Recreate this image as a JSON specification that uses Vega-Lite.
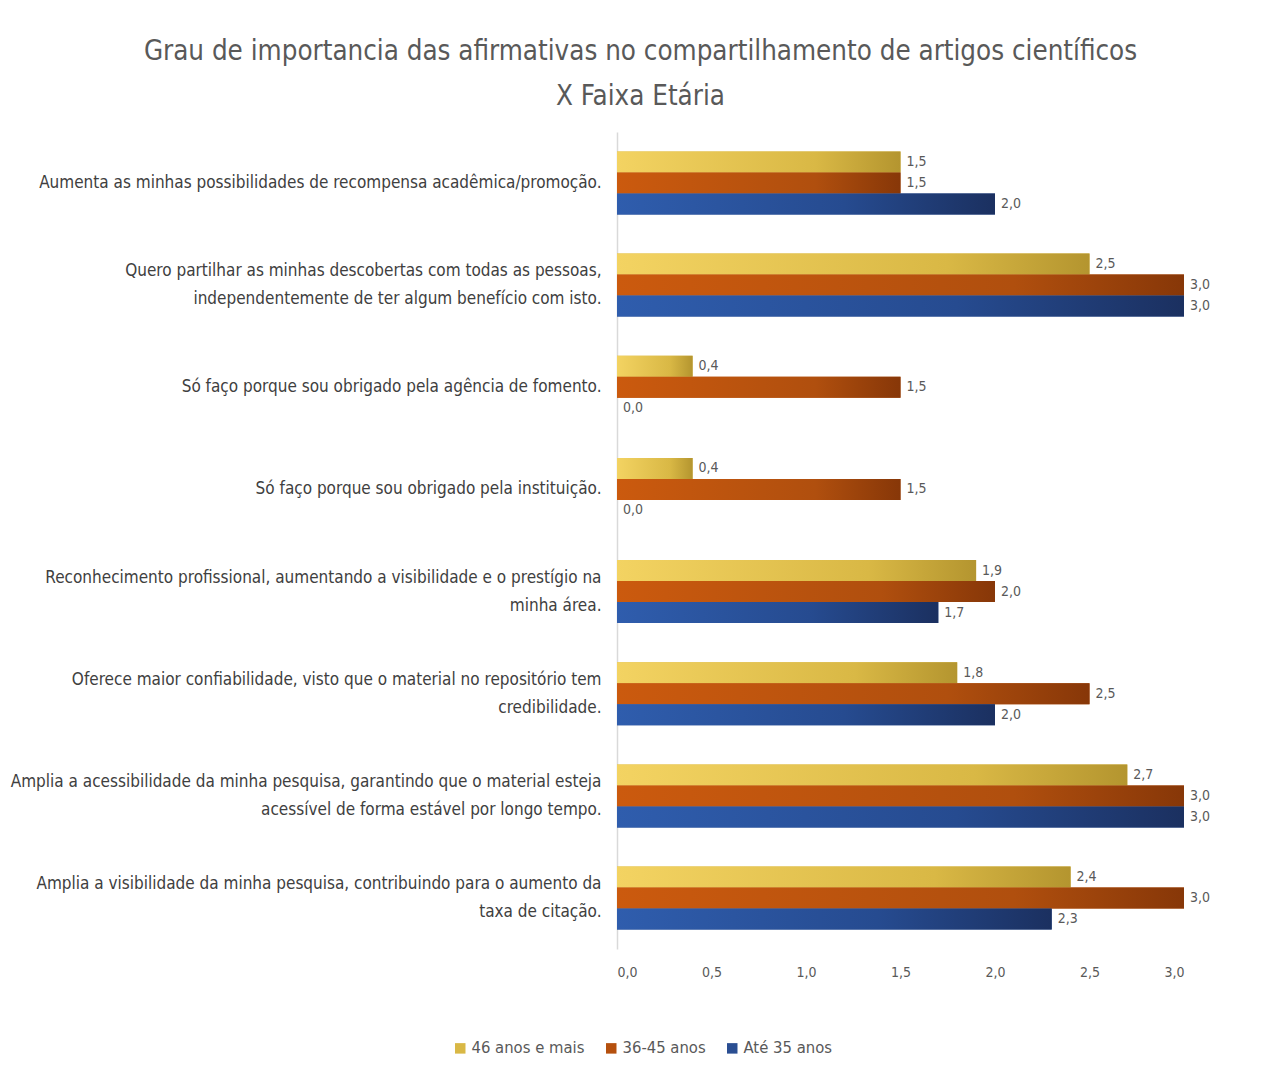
{
  "$schema": "https://vega.github.io/schema/vega-lite/v6.json",
  "autosize": "none",
  "width": 567,
  "height": 817,
  "padding": {"left": 617, "top": 132, "right": 79, "bottom": 121},
  "background": "white",
  "config": {
    "font": "'DejaVu Sans Condensed', 'Liberation Sans Narrow', Lato, sans-serif",
    "view": {"stroke": null},
    "locale": {"number": {"decimal": ",", "thousands": ".", "grouping": [3], "currency": ["R$", ""]}}
  },
  "title": {
    "text": ["Grau de importancia das afirmativas no compartilhamento de artigos científicos", "X Faixa Etária"],
    "font": "'DejaVu Sans Condensed', 'Liberation Sans Narrow', Lato, sans-serif",
    "fontSize": 27.5,
    "fontWeight": "normal",
    "color": "#595959",
    "anchor": "middle",
    "frame": "group",
    "dx": -260,
    "offset": 22,
    "lineHeight": 45
  },
  "data": {
    "values": [
      {"afirmativa": "Aumenta as minhas possibilidades de recompensa acadêmica/promoção.", "faixa": "46 anos e mais", "valor": 1.5},
      {"afirmativa": "Aumenta as minhas possibilidades de recompensa acadêmica/promoção.", "faixa": "36-45 anos", "valor": 1.5},
      {"afirmativa": "Aumenta as minhas possibilidades de recompensa acadêmica/promoção.", "faixa": "Até 35 anos", "valor": 2.0},
      {"afirmativa": "Quero partilhar as minhas descobertas com todas as pessoas, independentemente de ter algum benefício com isto.", "faixa": "46 anos e mais", "valor": 2.5},
      {"afirmativa": "Quero partilhar as minhas descobertas com todas as pessoas, independentemente de ter algum benefício com isto.", "faixa": "36-45 anos", "valor": 3.0},
      {"afirmativa": "Quero partilhar as minhas descobertas com todas as pessoas, independentemente de ter algum benefício com isto.", "faixa": "Até 35 anos", "valor": 3.0},
      {"afirmativa": "Só faço porque sou obrigado pela agência de fomento.", "faixa": "46 anos e mais", "valor": 0.4},
      {"afirmativa": "Só faço porque sou obrigado pela agência de fomento.", "faixa": "36-45 anos", "valor": 1.5},
      {"afirmativa": "Só faço porque sou obrigado pela agência de fomento.", "faixa": "Até 35 anos", "valor": 0.0},
      {"afirmativa": "Só faço porque sou obrigado pela instituição.", "faixa": "46 anos e mais", "valor": 0.4},
      {"afirmativa": "Só faço porque sou obrigado pela instituição.", "faixa": "36-45 anos", "valor": 1.5},
      {"afirmativa": "Só faço porque sou obrigado pela instituição.", "faixa": "Até 35 anos", "valor": 0.0},
      {"afirmativa": "Reconhecimento profissional, aumentando a visibilidade e o prestígio na minha área.", "faixa": "46 anos e mais", "valor": 1.9},
      {"afirmativa": "Reconhecimento profissional, aumentando a visibilidade e o prestígio na minha área.", "faixa": "36-45 anos", "valor": 2.0},
      {"afirmativa": "Reconhecimento profissional, aumentando a visibilidade e o prestígio na minha área.", "faixa": "Até 35 anos", "valor": 1.7},
      {"afirmativa": "Oferece maior confiabilidade, visto que o material no repositório tem credibilidade.", "faixa": "46 anos e mais", "valor": 1.8},
      {"afirmativa": "Oferece maior confiabilidade, visto que o material no repositório tem credibilidade.", "faixa": "36-45 anos", "valor": 2.5},
      {"afirmativa": "Oferece maior confiabilidade, visto que o material no repositório tem credibilidade.", "faixa": "Até 35 anos", "valor": 2.0},
      {"afirmativa": "Amplia a acessibilidade da minha pesquisa, garantindo que o material esteja acessível de forma estável por longo tempo.", "faixa": "46 anos e mais", "valor": 2.7},
      {"afirmativa": "Amplia a acessibilidade da minha pesquisa, garantindo que o material esteja acessível de forma estável por longo tempo.", "faixa": "36-45 anos", "valor": 3.0},
      {"afirmativa": "Amplia a acessibilidade da minha pesquisa, garantindo que o material esteja acessível de forma estável por longo tempo.", "faixa": "Até 35 anos", "valor": 3.0},
      {"afirmativa": "Amplia a visibilidade da minha pesquisa, contribuindo para o aumento da taxa de citação.", "faixa": "46 anos e mais", "valor": 2.4},
      {"afirmativa": "Amplia a visibilidade da minha pesquisa, contribuindo para o aumento da taxa de citação.", "faixa": "36-45 anos", "valor": 3.0},
      {"afirmativa": "Amplia a visibilidade da minha pesquisa, contribuindo para o aumento da taxa de citação.", "faixa": "Até 35 anos", "valor": 2.3}
    ]
  },
  "encoding": {
    "y": {
      "field": "afirmativa",
      "type": "nominal",
      "sort": null,
      "scale": {"paddingInner": 0.383, "paddingOuter": 0.19},
      "axis": {
        "title": null,
        "ticks": false,
        "domain": true,
        "domainColor": "#d9d9d9",
        "domainWidth": 1.5,
        "labelFontSize": 17,
        "labelColor": "#404040",
        "labelPadding": 16,
        "labelLimit": 700,
        "labelLineHeight": 28,
        "labelOffset": {"condition": {"test": "length(datum.value) > 75", "value": -14}, "value": 0},
        "labelExpr": "datum.value == 'Quero partilhar as minhas descobertas com todas as pessoas, independentemente de ter algum benefício com isto.' ? ['Quero partilhar as minhas descobertas com todas as pessoas,', 'independentemente de ter algum benefício com isto.'] : datum.value == 'Reconhecimento profissional, aumentando a visibilidade e o prestígio na minha área.' ? ['Reconhecimento profissional, aumentando a visibilidade e o prestígio na', 'minha área.'] : datum.value == 'Oferece maior confiabilidade, visto que o material no repositório tem credibilidade.' ? ['Oferece maior confiabilidade, visto que o material no repositório tem', 'credibilidade.'] : datum.value == 'Amplia a acessibilidade da minha pesquisa, garantindo que o material esteja acessível de forma estável por longo tempo.' ? ['Amplia a acessibilidade da minha pesquisa, garantindo que o material esteja', 'acessível de forma estável por longo tempo.'] : datum.value == 'Amplia a visibilidade da minha pesquisa, contribuindo para o aumento da taxa de citação.' ? ['Amplia a visibilidade da minha pesquisa, contribuindo para o aumento da', 'taxa de citação.'] : datum.value"
      }
    },
    "yOffset": {
      "field": "faixa",
      "type": "nominal",
      "sort": ["46 anos e mais", "36-45 anos", "Até 35 anos"],
      "scale": {"paddingInner": 0, "paddingOuter": 0}
    },
    "x": {
      "field": "valor",
      "type": "quantitative",
      "scale": {"domain": [0, 3], "nice": false},
      "axis": {
        "title": null,
        "values": [0, 0.5, 1, 1.5, 2, 2.5, 3],
        "format": ".1f",
        "grid": false,
        "domain": false,
        "ticks": false,
        "labelFontSize": 14,
        "labelColor": "#595959",
        "labelPadding": 16
      }
    }
  },
  "layer": [
    {
      "mark": {"type": "bar"},
      "encoding": {
        "color": {
          "field": "faixa",
          "type": "nominal",
          "sort": ["46 anos e mais", "36-45 anos", "Até 35 anos"],
          "scale": {"domain": ["46 anos e mais", "36-45 anos", "Até 35 anos"], "range": ["#D9B845", "#B5500E", "#2A4E92"]},
          "legend": {
            "title": null,
            "orient": "none",
            "direction": "horizontal",
            "legendX": -165,
            "legendY": 908,
            "symbolType": "square",
            "symbolSize": 110,
            "symbolStrokeWidth": 0,
            "labelFontSize": 16.5,
            "labelColor": "#595959",
            "columnPadding": 18,
            "labelOffset": 3
          }
        }
      }
    },
    {
      "transform": [{"filter": "datum.faixa == '46 anos e mais'"}],
      "mark": {"type": "bar", "color": {"gradient": "linear", "x1": 0, "x2": 1, "y1": 0, "y2": 0, "stops": [{"offset": 0, "color": "#F3D362"}, {"offset": 0.7, "color": "#D9B845"}, {"offset": 1, "color": "#B4952F"}]}}
    },
    {
      "transform": [{"filter": "datum.faixa == '36-45 anos'"}],
      "mark": {"type": "bar", "color": {"gradient": "linear", "x1": 0, "x2": 1, "y1": 0, "y2": 0, "stops": [{"offset": 0, "color": "#CB5A0E"}, {"offset": 0.7, "color": "#B04F0E"}, {"offset": 1, "color": "#873708"}]}}
    },
    {
      "transform": [{"filter": "datum.faixa == 'Até 35 anos'"}],
      "mark": {"type": "bar", "color": {"gradient": "linear", "x1": 0, "x2": 1, "y1": 0, "y2": 0, "stops": [{"offset": 0, "color": "#2F5DAD"}, {"offset": 0.6, "color": "#264B90"}, {"offset": 1, "color": "#1B3060"}]}}
    },
    {
      "mark": {"type": "text", "align": "left", "baseline": "middle", "dx": 6, "fontSize": 14, "color": "#595959"},
      "encoding": {
        "text": {"field": "valor", "type": "quantitative", "format": ".1f"}
      }
    }
  ]
}
